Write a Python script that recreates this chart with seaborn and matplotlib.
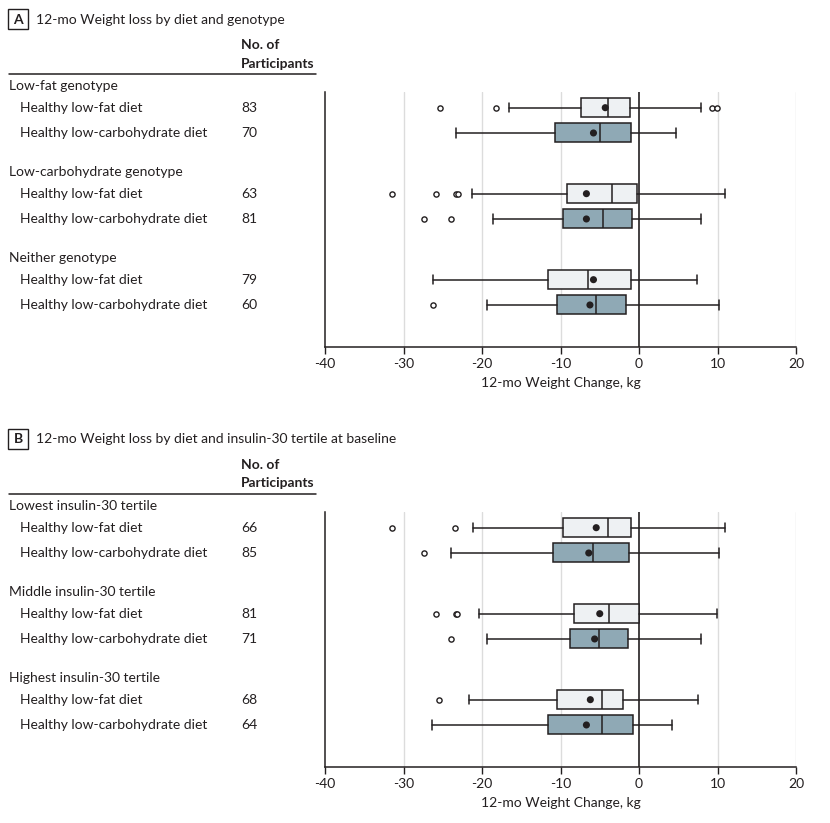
import numpy as np
import pandas as pd
import seaborn as sns
import matplotlib.pyplot as plt
from matplotlib.lines import Line2D
from matplotlib.patches import Rectangle
from matplotlib.transforms import blended_transform_factory

# Filas de cada panel
diets = ["Healthy low-fat diet", "Healthy low-carbohydrate diet"]

# Panel A: genotipo
title_a = "12-mo Weight loss by diet and genotype"
groups_a = ["Low-fat genotype", "Low-carbohydrate genotype", "Neither genotype"]
n_a = [83, 70, 63, 81, 79, 60]
whislo_a = [-16.5, -23.3, -21.3, -18.6, -26.3, -19.3]
q1_a = [-7.4, -10.7, -9.2, -9.7, -11.65, -10.4]
med_a = [-4.0, -5.0, -3.5, -4.6, -6.55, -5.5]
mean_a = [-4.3, -5.8, -6.7, -6.7, -5.8, -6.25]
q3_a = [-1.15, -1.0, -0.25, -0.9, -1.05, -1.65]
whishi_a = [7.9, 4.7, 10.9, 7.9, 7.35, 10.2]
fliers_a = [[-25.4, -18.2, 9.35, 9.9], [], [-31.5, -25.9, -23.3, -23.1],
            [-27.4, -23.9], [], [-26.2]]

# Panel B: tercil de insulina-30
title_b = "12-mo Weight loss by diet and insulin-30 tertile at baseline"
groups_b = ["Lowest insulin-30 tertile", "Middle insulin-30 tertile", "Highest insulin-30 tertile"]
n_b = [66, 85, 81, 71, 68, 64]
whislo_b = [-21.2, -24.0, -20.4, -19.3, -21.7, -26.4]
q1_b = [-9.7, -11.0, -8.3, -8.85, -10.4, -11.65]
med_b = [-4.0, -5.8, -3.8, -5.15, -4.7, -4.7]
mean_b = [-5.45, -6.4, -5.0, -5.65, -6.2, -6.7]
q3_b = [-1.0, -1.3, 0.0, -1.4, -2.05, -0.75]
whishi_b = [10.9, 10.2, 9.9, 7.9, 7.5, 4.2]
fliers_b = [[-31.5, -23.4], [-27.4], [-25.9, -23.3, -23.2], [-23.9], [-25.5], []]

xticks = [-40, -30, -20, -10, 0, 10, 20]

sns.set_theme(style="white")
plt.rcParams['font.family'] = ['Lato', 'DejaVu Sans']
plt.rcParams['axes.unicode_minus'] = False
ink = '#231f20'
plt.rcParams['text.color'] = ink
fs = 10

W, H = 830, 823
fig = plt.figure(figsize=(W / 100, H / 100), dpi=100)


def px(x):
    return x / W


def py(y):
    return 1 - y / H


def panel(off, letter, title, groups, n, whislo, q1, med, mean, q3, whishi, fliers):
    top, bottom = 92 + off, 346.7 + off
    ax = fig.add_axes([px(325), py(bottom), px(796) - px(325), (bottom - top) / H])

    pos = [0.62 + g * 3.4 + d for g in range(3) for d in range(2)]
    stats = [dict(whislo=whislo[i], q1=q1[i], med=med[i], q3=q3[i], whishi=whishi[i], fliers=[])
             for i in range(len(pos))]
    art = ax.bxp(stats, positions=pos, widths=0.75, capwidths=0.36, orientation='horizontal',
                 patch_artist=True, showfliers=False, manage_ticks=False,
                 boxprops=dict(edgecolor=ink, linewidth=1.1),
                 medianprops=dict(color=ink, linewidth=1.1),
                 whiskerprops=dict(color=ink, linewidth=1.1),
                 capprops=dict(color=ink, linewidth=1.1))
    for i, b in enumerate(art['boxes']):
        b.set_facecolor('#eef1f3' if i % 2 == 0 else '#8fa9b5')
        b.set_zorder(3)
    for key in ['medians', 'whiskers', 'caps']:
        for l in art[key]:
            l.set_zorder(3)

    # medias
    sns.scatterplot(x=mean, y=pos, ax=ax, color=ink, s=26, edgecolor='none', zorder=5, legend=False)
    # valores atipicos
    fl = pd.DataFrame([(v, pos[i]) for i, f in enumerate(fliers) for v in f], columns=['x', 'y'])
    sns.scatterplot(data=fl, x='x', y='y', ax=ax, facecolor='white', edgecolor=ink,
                    s=14, linewidth=1.0, zorder=5, legend=False)

    for v in xticks[1:]:
        if v != 0:
            ax.axvline(v, color='#dcdcdc', lw=1, zorder=0)
    ax.axvline(0, color=ink, lw=1.2, zorder=2)

    ax.set_xlim(-40, 20)
    ax.set_ylim(10.07, 0)
    ax.set_xticks(xticks)
    ax.set_xticklabels([str(v) for v in xticks])
    ax.set_yticks([])
    ax.tick_params(axis='x', bottom=True, length=5, width=1, color=ink, labelsize=fs,
                   labelcolor=ink, pad=3)
    sns.despine(ax=ax)
    for s in ['left', 'bottom']:
        ax.spines[s].set_color(ink)
        ax.spines[s].set_linewidth(1.1)
    ax.set_xlabel("12-mo Weight Change, kg", fontsize=fs, color=ink)
    ax.xaxis.set_label_coords(0.5, -0.118)
    ax.set_ylabel("")

    # tabla a la izquierda
    tr = blended_transform_factory(fig.transFigure, ax.transData)
    for g in range(3):
        ax.text(px(9), pos[2 * g] - 0.86, groups[g], transform=tr, va='center', ha='left',
                fontsize=fs, clip_on=False)
        for d in range(2):
            i = 2 * g + d
            ax.text(px(20), pos[i], diets[d], transform=tr, va='center', ha='left',
                    fontsize=fs, clip_on=False)
            ax.text(px(241), pos[i], str(n[i]), transform=tr, va='center', ha='left',
                    fontsize=fs, clip_on=False)

    # encabezado
    fig.add_artist(Rectangle((px(8), py(29 + off)), px(20), 20 / H, transform=fig.transFigure,
                             fill=False, edgecolor=ink, linewidth=1))
    fig.text(px(18), py(19.5 + off), letter, ha='center', va='center', fontsize=fs,
             fontweight='bold')
    fig.text(px(36), py(19.5 + off), title, ha='left', va='center', fontsize=fs)
    fig.text(px(241), py(45 + off), "No. of", ha='left', va='center', fontsize=fs,
             fontweight='bold')
    fig.text(px(241), py(63.5 + off), "Participants", ha='left', va='center', fontsize=fs,
             fontweight='bold')
    fig.add_artist(Line2D([px(9), px(316)], [py(74.3 + off)] * 2, transform=fig.transFigure,
                          color=ink, lw=1.1))


panel(0, "A", title_a, groups_a, n_a, whislo_a, q1_a, med_a, mean_a, q3_a, whishi_a, fliers_a)
panel(420, "B", title_b, groups_b, n_b, whislo_b, q1_b, med_b, mean_b, q3_b, whishi_b, fliers_b)

fig.savefig('out.png', dpi=100)
